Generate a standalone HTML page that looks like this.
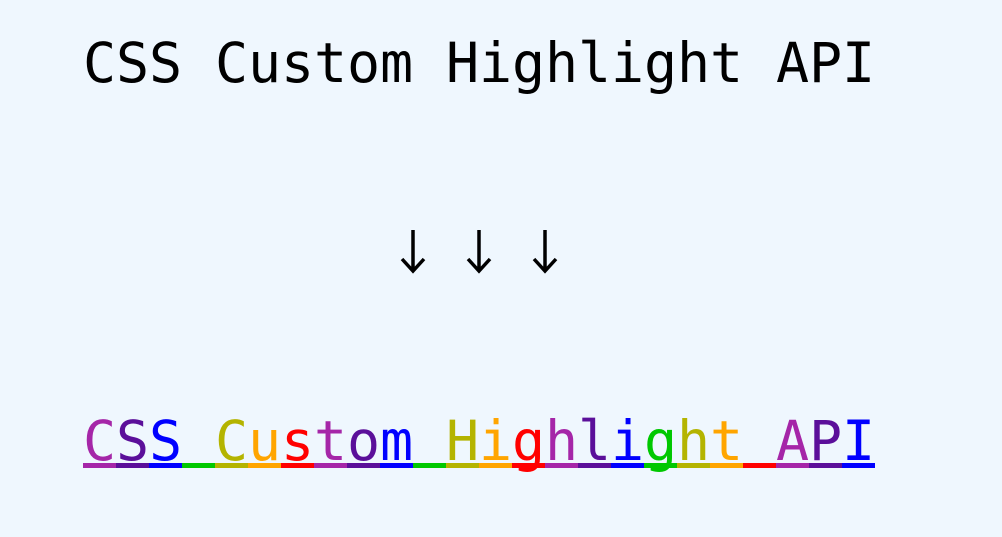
<!DOCTYPE html>
<html><head><meta charset="utf-8"><style>
html,body{margin:0;padding:0;width:1002px;height:537px;background:#eff7fe;overflow:hidden;position:relative}
.t{position:absolute;left:83px;font-family:"DejaVu Sans Mono","Liberation Mono",monospace;font-size:55px;line-height:55px;white-space:pre;letter-spacing:0}
.t span{display:inline-block;width:33px;text-align:center}
.u{position:absolute;top:463px;height:5px;width:33px}
</style></head><body>
<div class="t" id="a" style="top:36px;color:#000"></div>
<svg style="position:absolute;left:0;top:0" width="1002" height="537">
<g stroke="#000" stroke-width="3.5" fill="none" stroke-linecap="butt">
<path d="M413 230V270M402 259L413 271L424 259"/>
<path d="M479 230V270M468 259L479 271L490 259"/>
<path d="M545 230V270M534 259L545 271L556 259"/>
</g></svg>
<div class="t" id="b" style="top:414px"></div>
<div id="ul"></div>
<script>
var s="CSS Custom Highlight API",c=["#a526a8","#5b0f9a","#0000ff","#00c800","#b4b400","#ffa500","#ff0000"];
var a=document.getElementById("a"),b=document.getElementById("b"),u=document.getElementById("ul"),h="",g="",k="";
for(var i=0;i<s.length;i++){var col=c[i%7],ch=(s[i]==" "?"&nbsp;":s[i]);h+='<span style="color:'+col+'">'+ch+'</span>';k+='<span>'+ch+'</span>';g+='<div class="u" style="left:'+(83+i*33)+'px;background:'+col+'"></div>';}
a.innerHTML=k;b.innerHTML=h;u.innerHTML=g;
</script>
</body></html>
